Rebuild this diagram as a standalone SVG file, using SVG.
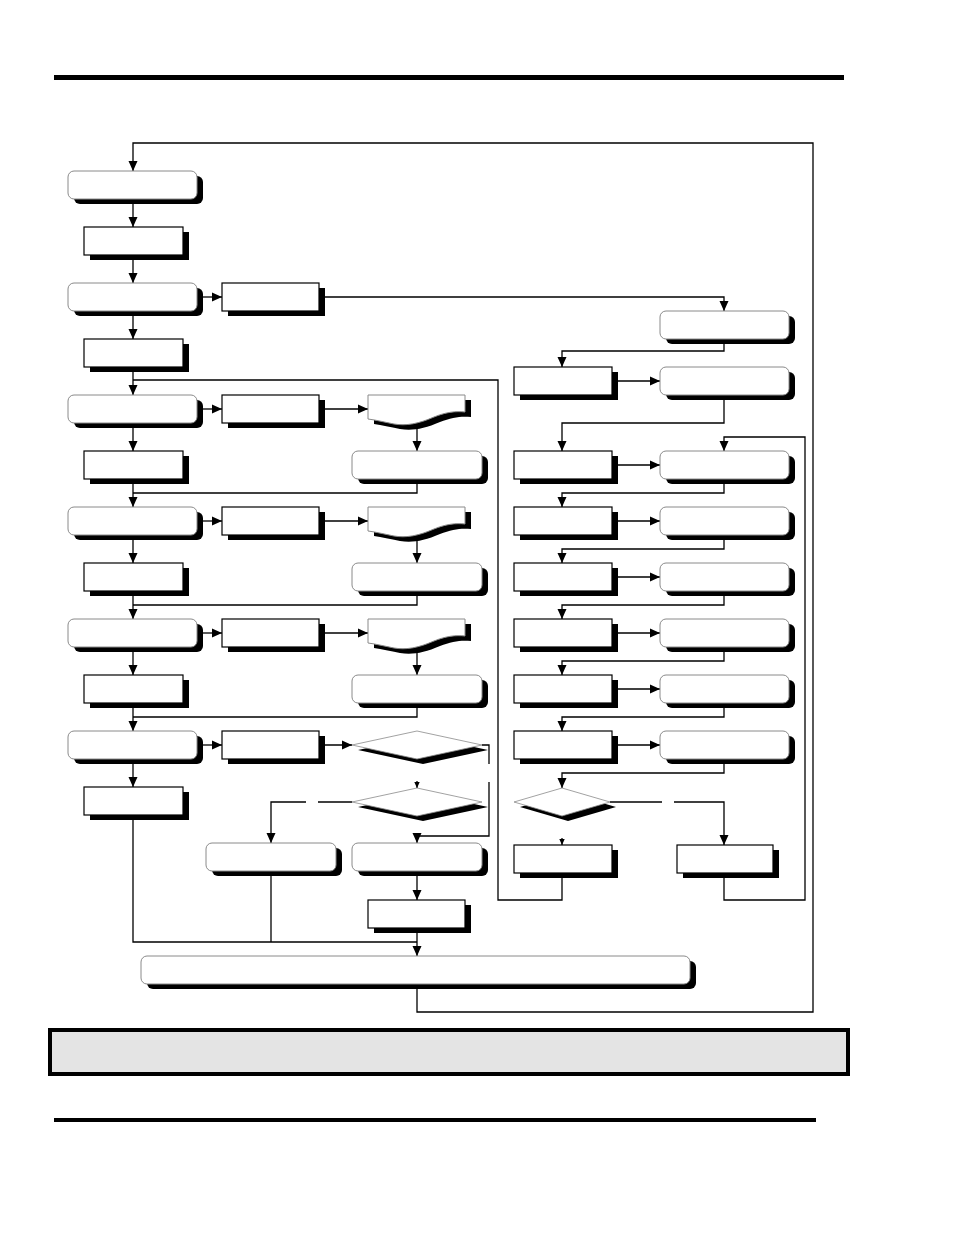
<svg xmlns="http://www.w3.org/2000/svg" xmlns:xlink="http://www.w3.org/1999/xlink" width="954" height="1235" viewBox="0 0 954 1235">
<style>
.sh{fill:#000}
.rr{fill:#fff;stroke:#8a8a8a;stroke-width:1}
.bx{fill:#fff;stroke:#000;stroke-width:1.2}
.dm{fill:#fff;stroke:#8a8a8a;stroke-width:0.8}
.ln{fill:none;stroke:#000;stroke-width:1.3}
.ar{fill:none;stroke:#000;stroke-width:1.3;marker-end:url(#ah)}
.as{fill:none;stroke:#000;stroke-width:1.3;marker-end:url(#ahs)}
</style>
<defs>
<marker id="ah" markerUnits="userSpaceOnUse" markerWidth="10" markerHeight="10" viewBox="0 0 10 10" refX="10" refY="5" orient="auto">
<path d="M0,0.5 L10,5 L0,9.5 Z" fill="#000"/>
</marker>
<marker id="ahs" markerUnits="userSpaceOnUse" markerWidth="6" markerHeight="6" viewBox="0 0 10 10" refX="10" refY="5" orient="auto">
<path d="M0,0.5 L10,5 L0,9.5 Z" fill="#000"/>
</marker>
<path id="doc" d="M0,0 H97 V17 C88,16 78,17 66,22 C50,29 38,31 26,29 C16,27 8,25 0,24 Z"/>
<path id="dia1" d="M0,14 L65,0 L130,14 L65,28 Z"/>
<path id="dia3" d="M0,14 L48,0 L96,14 L48,28 Z"/>
</defs>

<!-- page rules and footer box -->
<rect x="54" y="75" width="790" height="5" fill="#000"/>
<rect x="54" y="1118" width="762" height="4" fill="#000"/>
<rect x="50" y="1030" width="798" height="44" fill="#e4e4e4" stroke="#000" stroke-width="4"/>

<g id="connectors">
<polyline class="ar" points="417,984 417,1012 813,1012 813,143 133,143 133,171"/>
<polyline class="ar" points="133,199 133,227"/>
<polyline class="ar" points="133,255 133,283"/>
<polyline class="ar" points="133,311 133,339"/>
<polyline class="ar" points="197,297 222,297"/>
<polyline class="ar" points="319,297 724,297 724,311"/>
<polyline class="ar" points="133,367 133,395"/>
<polyline class="ln" points="562,873 562,900 498,900 498,380 133,380"/>
<!-- row 395 -->
<polyline class="ar" points="197,409 222,409"/>
<polyline class="ar" points="319,409 368,409"/>
<polyline class="ar" points="417,419 417,451"/>
<polyline class="ln" points="417,479 417,493 133,493"/>
<polyline class="ar" points="133,423 133,451"/>
<polyline class="ar" points="133,479 133,507"/>
<!-- row 507 -->
<polyline class="ar" points="197,521 222,521"/>
<polyline class="ar" points="319,521 368,521"/>
<polyline class="ar" points="417,531 417,563"/>
<polyline class="ln" points="417,591 417,605 133,605"/>
<polyline class="ar" points="133,535 133,563"/>
<polyline class="ar" points="133,591 133,619"/>
<!-- row 619 -->
<polyline class="ar" points="197,633 222,633"/>
<polyline class="ar" points="319,633 368,633"/>
<polyline class="ar" points="417,643 417,675"/>
<polyline class="ln" points="417,703 417,717 133,717"/>
<polyline class="ar" points="133,647 133,675"/>
<polyline class="ar" points="133,703 133,731"/>
<!-- row 731 -->
<polyline class="ar" points="197,745 222,745"/>
<polyline class="ar" points="319,745 352,745"/>
<polyline class="ar" points="133,759 133,787"/>
<polyline class="ln" points="482,745 489,745 489,764"/>
<polyline class="ar" points="489,782 489,836 417,836 417,843"/>
<polyline class="as" points="417,781 417,788"/>
<polyline class="ln" points="352,802 318,802"/>
<polyline class="ar" points="306,802 271,802 271,843"/>
<polyline class="ar" points="417,872 417,900"/>
<polyline class="ar" points="417,928 417,956"/>
<polyline class="ln" points="271,872 271,942"/>
<polyline class="ln" points="133,815 133,942 417,942"/>
<!-- right column -->
<polyline class="ar" points="724,339 724,351 562,351 562,367"/>
<polyline class="ar" points="612,381 660,381"/>
<polyline class="ar" points="724,395 724,423 562,423 562,451"/>
<polyline class="ar" points="612,465 660,465"/>
<polyline class="ar" points="724,479 724,493 562,493 562,507"/>
<polyline class="ar" points="612,521 660,521"/>
<polyline class="ar" points="724,535 724,549 562,549 562,563"/>
<polyline class="ar" points="612,577 660,577"/>
<polyline class="ar" points="724,591 724,605 562,605 562,619"/>
<polyline class="ar" points="612,633 660,633"/>
<polyline class="ar" points="724,647 724,661 562,661 562,675"/>
<polyline class="ar" points="612,689 660,689"/>
<polyline class="ar" points="724,703 724,717 562,717 562,731"/>
<polyline class="ar" points="612,745 660,745"/>
<polyline class="ar" points="724,759 724,773 562,773 562,788"/>
<polyline class="ln" points="610,802 662,802"/>
<polyline class="ar" points="674,802 724,802 724,845"/>
<polyline class="as" points="562,838 562,845"/>
<polyline class="ar" points="724,873 724,900 805,900 805,437 724,437 724,451"/>
</g>

<!-- left column rounded nodes -->
<g id="L1"><rect class="sh" x="74" y="176" width="129" height="28" rx="6"/><rect class="rr" x="68" y="171" width="129" height="28" rx="6"/></g>
<g id="L2"><rect class="sh" x="90" y="232" width="99" height="28"/><rect class="bx" x="84" y="227" width="99" height="28"/></g>
<g id="L3"><rect class="sh" x="74" y="288" width="129" height="28" rx="6"/><rect class="rr" x="68" y="283" width="129" height="28" rx="6"/></g>
<g id="L4"><rect class="sh" x="90" y="344" width="99" height="28"/><rect class="bx" x="84" y="339" width="99" height="28"/></g>
<g id="L5"><rect class="sh" x="74" y="400" width="129" height="28" rx="6"/><rect class="rr" x="68" y="395" width="129" height="28" rx="6"/></g>
<g id="L6"><rect class="sh" x="90" y="456" width="99" height="28"/><rect class="bx" x="84" y="451" width="99" height="28"/></g>
<g id="L7"><rect class="sh" x="74" y="512" width="129" height="28" rx="6"/><rect class="rr" x="68" y="507" width="129" height="28" rx="6"/></g>
<g id="L8"><rect class="sh" x="90" y="568" width="99" height="28"/><rect class="bx" x="84" y="563" width="99" height="28"/></g>
<g id="L9"><rect class="sh" x="74" y="624" width="129" height="28" rx="6"/><rect class="rr" x="68" y="619" width="129" height="28" rx="6"/></g>
<g id="L10"><rect class="sh" x="90" y="680" width="99" height="28"/><rect class="bx" x="84" y="675" width="99" height="28"/></g>
<g id="L11"><rect class="sh" x="74" y="736" width="129" height="28" rx="6"/><rect class="rr" x="68" y="731" width="129" height="28" rx="6"/></g>
<g id="L12"><rect class="sh" x="90" y="792" width="99" height="28"/><rect class="bx" x="84" y="787" width="99" height="28"/></g>

<!-- middle rects -->
<g id="M1"><rect class="sh" x="228" y="288" width="97" height="28"/><rect class="bx" x="222" y="283" width="97" height="28"/></g>
<g id="M2"><rect class="sh" x="228" y="400" width="97" height="28"/><rect class="bx" x="222" y="395" width="97" height="28"/></g>
<g id="M3"><rect class="sh" x="228" y="512" width="97" height="28"/><rect class="bx" x="222" y="507" width="97" height="28"/></g>
<g id="M4"><rect class="sh" x="228" y="624" width="97" height="28"/><rect class="bx" x="222" y="619" width="97" height="28"/></g>
<g id="M5"><rect class="sh" x="228" y="736" width="97" height="28"/><rect class="bx" x="222" y="731" width="97" height="28"/></g>

<!-- documents -->
<g id="D1"><use href="#doc" xlink:href="#doc" x="374" y="400" class="sh"/><use href="#doc" xlink:href="#doc" x="368" y="395" class="rr"/></g>
<g id="D2"><use href="#doc" xlink:href="#doc" x="374" y="512" class="sh"/><use href="#doc" xlink:href="#doc" x="368" y="507" class="rr"/></g>
<g id="D3"><use href="#doc" xlink:href="#doc" x="374" y="624" class="sh"/><use href="#doc" xlink:href="#doc" x="368" y="619" class="rr"/></g>

<!-- middle rounded -->
<g id="R1"><rect class="sh" x="358" y="456" width="130" height="28" rx="6"/><rect class="rr" x="352" y="451" width="130" height="28" rx="6"/></g>
<g id="R2"><rect class="sh" x="358" y="568" width="130" height="28" rx="6"/><rect class="rr" x="352" y="563" width="130" height="28" rx="6"/></g>
<g id="R3"><rect class="sh" x="358" y="680" width="130" height="28" rx="6"/><rect class="rr" x="352" y="675" width="130" height="28" rx="6"/></g>

<!-- decisions -->
<g id="X1"><use href="#dia1" xlink:href="#dia1" x="358" y="736" class="sh"/><use href="#dia1" xlink:href="#dia1" x="352" y="731" class="dm"/></g>
<g id="X2"><use href="#dia1" xlink:href="#dia1" x="358" y="793" class="sh"/><use href="#dia1" xlink:href="#dia1" x="352" y="788" class="dm"/></g>

<g id="B1"><rect class="sh" x="212" y="848" width="130" height="28" rx="6"/><rect class="rr" x="206" y="843" width="130" height="28" rx="6"/></g>
<g id="B2"><rect class="sh" x="358" y="848" width="130" height="28" rx="6"/><rect class="rr" x="352" y="843" width="130" height="28" rx="6"/></g>
<g id="B3"><rect class="sh" x="374" y="905" width="97" height="28"/><rect class="bx" x="368" y="900" width="97" height="28"/></g>
<g id="BIG"><rect class="sh" x="147" y="961" width="549" height="28" rx="6"/><rect class="rr" x="141" y="956" width="549" height="28" rx="6"/></g>

<!-- right column -->
<g id="RR1"><rect class="sh" x="666" y="316" width="129" height="28" rx="6"/><rect class="rr" x="660" y="311" width="129" height="28" rx="6"/></g>
<g id="RR2"><rect class="sh" x="666" y="372" width="129" height="28" rx="6"/><rect class="rr" x="660" y="367" width="129" height="28" rx="6"/></g>
<g id="RR3"><rect class="sh" x="666" y="456" width="129" height="28" rx="6"/><rect class="rr" x="660" y="451" width="129" height="28" rx="6"/></g>
<g id="RR4"><rect class="sh" x="666" y="512" width="129" height="28" rx="6"/><rect class="rr" x="660" y="507" width="129" height="28" rx="6"/></g>
<g id="RR5"><rect class="sh" x="666" y="568" width="129" height="28" rx="6"/><rect class="rr" x="660" y="563" width="129" height="28" rx="6"/></g>
<g id="RR6"><rect class="sh" x="666" y="624" width="129" height="28" rx="6"/><rect class="rr" x="660" y="619" width="129" height="28" rx="6"/></g>
<g id="RR7"><rect class="sh" x="666" y="680" width="129" height="28" rx="6"/><rect class="rr" x="660" y="675" width="129" height="28" rx="6"/></g>
<g id="RR8"><rect class="sh" x="666" y="736" width="129" height="28" rx="6"/><rect class="rr" x="660" y="731" width="129" height="28" rx="6"/></g>

<g id="RB1"><rect class="sh" x="520" y="372" width="98" height="28"/><rect class="bx" x="514" y="367" width="98" height="28"/></g>
<g id="RB2"><rect class="sh" x="520" y="456" width="98" height="28"/><rect class="bx" x="514" y="451" width="98" height="28"/></g>
<g id="RB3"><rect class="sh" x="520" y="512" width="98" height="28"/><rect class="bx" x="514" y="507" width="98" height="28"/></g>
<g id="RB4"><rect class="sh" x="520" y="568" width="98" height="28"/><rect class="bx" x="514" y="563" width="98" height="28"/></g>
<g id="RB5"><rect class="sh" x="520" y="624" width="98" height="28"/><rect class="bx" x="514" y="619" width="98" height="28"/></g>
<g id="RB6"><rect class="sh" x="520" y="680" width="98" height="28"/><rect class="bx" x="514" y="675" width="98" height="28"/></g>
<g id="RB7"><rect class="sh" x="520" y="736" width="98" height="28"/><rect class="bx" x="514" y="731" width="98" height="28"/></g>
<g id="X3"><use href="#dia3" xlink:href="#dia3" x="520" y="793" class="sh"/><use href="#dia3" xlink:href="#dia3" x="514" y="788" class="dm"/></g>
<g id="RB8"><rect class="sh" x="520" y="850" width="98" height="28"/><rect class="bx" x="514" y="845" width="98" height="28"/></g>
<g id="RB9"><rect class="sh" x="683" y="850" width="96" height="28"/><rect class="bx" x="677" y="845" width="96" height="28"/></g>
</svg>
